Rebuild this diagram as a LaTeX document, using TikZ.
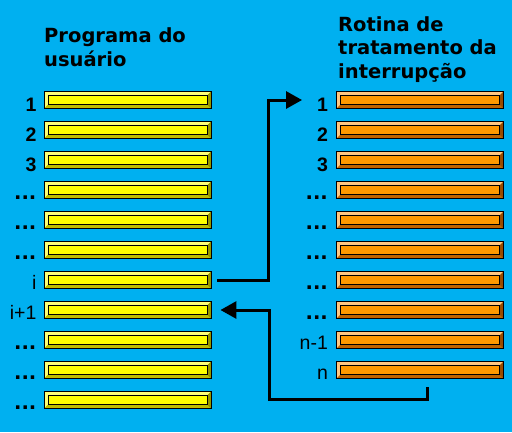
\documentclass[tikz,border=0pt]{standalone}
\usepackage{fontspec}
\setmainfont{DejaVu Sans}
\newfontfamily\arialfont{Liberation Sans}
\usetikzlibrary{arrows.meta}

\definecolor{sky}{RGB}{0,176,240}
\definecolor{ylwin}{RGB}{255,255,0}
\definecolor{ylwlt}{RGB}{255,255,120}
\definecolor{ylwdk}{RGB}{190,190,0}
\definecolor{ylwdkr}{RGB}{150,150,0}
\definecolor{orgin}{RGB}{255,153,0}
\definecolor{orglt}{RGB}{255,200,130}
\definecolor{orgdk}{RGB}{190,100,0}
\definecolor{orgdkr}{RGB}{150,75,0}

\newcommand{\dotrow}{...}

\tikzset{
    bevelbar/.style n args={4}{
        draw=black, line width=0.9pt, fill=#1, inner sep=0pt,
        minimum width=167pt, minimum height=17pt,
        path picture={
            \fill[#2] (path picture bounding box.north west) -- (path picture bounding box.north east)
                -- ([xshift=-4pt,yshift=-4pt]path picture bounding box.north east)
                -- ([xshift=4pt,yshift=-4pt]path picture bounding box.north west) -- cycle;
            \fill[#2] (path picture bounding box.north west) -- (path picture bounding box.south west)
                -- ([xshift=4pt,yshift=4pt]path picture bounding box.south west)
                -- ([xshift=4pt,yshift=-4pt]path picture bounding box.north west) -- cycle;
            \fill[#3] (path picture bounding box.south west) -- (path picture bounding box.south east)
                -- ([xshift=-4pt,yshift=4pt]path picture bounding box.south east)
                -- ([xshift=4pt,yshift=4pt]path picture bounding box.south west) -- cycle;
            \fill[#4] (path picture bounding box.north east) -- (path picture bounding box.south east)
                -- ([xshift=-4pt,yshift=4pt]path picture bounding box.south east)
                -- ([xshift=-4pt,yshift=-4pt]path picture bounding box.north east) -- cycle;
            \draw[black, line width=0.6pt] ([xshift=4pt,yshift=4pt]path picture bounding box.south west)
                rectangle ([xshift=-4pt,yshift=-4pt]path picture bounding box.north east);
        }
    },
    userbar/.style={bevelbar={ylwin}{ylwlt}{ylwdk}{ylwdkr}},
    isrbar/.style={bevelbar={orgin}{orglt}{orgdk}{orgdkr}},
    numlab/.style={anchor=base east, inner sep=0pt, yshift=-3pt,
        font=\arialfont\bfseries\fontsize{19.5}{23}\selectfont},
    dotlab/.style={anchor=base east, inner sep=0pt, yshift=-1pt,
        font=\bfseries\fontsize{19.5}{23}\selectfont},
    varlab/.style={anchor=base east, inner sep=0pt, yshift=-1pt,
        font=\arialfont\fontsize{19.5}{23}\selectfont},
    title/.style={anchor=base west, inner sep=0pt, align=left,
        font=\bfseries\fontsize{19.5}{23.5}\selectfont},
    flow/.style={line width=3pt, line join=miter, -{Triangle[length=16pt,width=17pt]}}
}

\begin{document}
\begin{tikzpicture}[x=1pt, y=-1pt]
    \fill[sky] (0,0) rectangle (512,432);
    \useasboundingbox (0,0) rectangle (512,432);

    % titles (base = last line)
    \node[title] (user) at (44,66) {Programa do\\usuário};
    \node[title] (isr) at (338,78) {Rotina de\\tratamento da\\interrupção};

    % user program
    \foreach \txt/\sty [count=\k] in {1/numlab, 2/numlab, 3/numlab, \dotrow/dotlab, \dotrow/dotlab,
            \dotrow/dotlab, i/varlab, i+1/varlab, \dotrow/dotlab, \dotrow/dotlab, \dotrow/dotlab} {
        \node[userbar] (l\k) at (127.5, {100+30*(\k-1)}) {};
        \node[\sty] (ll\k) at ([xshift=-7pt]l\k.south west) {\txt};
    }

    % interrupt routine
    \foreach \txt/\sty [count=\k] in {1/numlab, 2/numlab, 3/numlab, \dotrow/dotlab, \dotrow/dotlab,
            \dotrow/dotlab, \dotrow/dotlab, \dotrow/dotlab, n-1/varlab, n/varlab} {
        \node[isrbar] (r\k) at (420, {100+30*(\k-1)}) {};
        \node[\sty] (rl\k) at ([xshift=-8pt]r\k.south west) {\txt};
    }

    % jump to the routine and back
    \draw[flow] ([xshift=6pt]l7.east) -- ++(51,0) |- ([xshift=-34pt]r1.west);
    \coordinate (back) at (427,387);
    \draw[flow] (back) -- ++(0,12) -| ([xshift=58pt]l8.east) -- ([xshift=9pt]l8.east);
\end{tikzpicture}
\end{document}
